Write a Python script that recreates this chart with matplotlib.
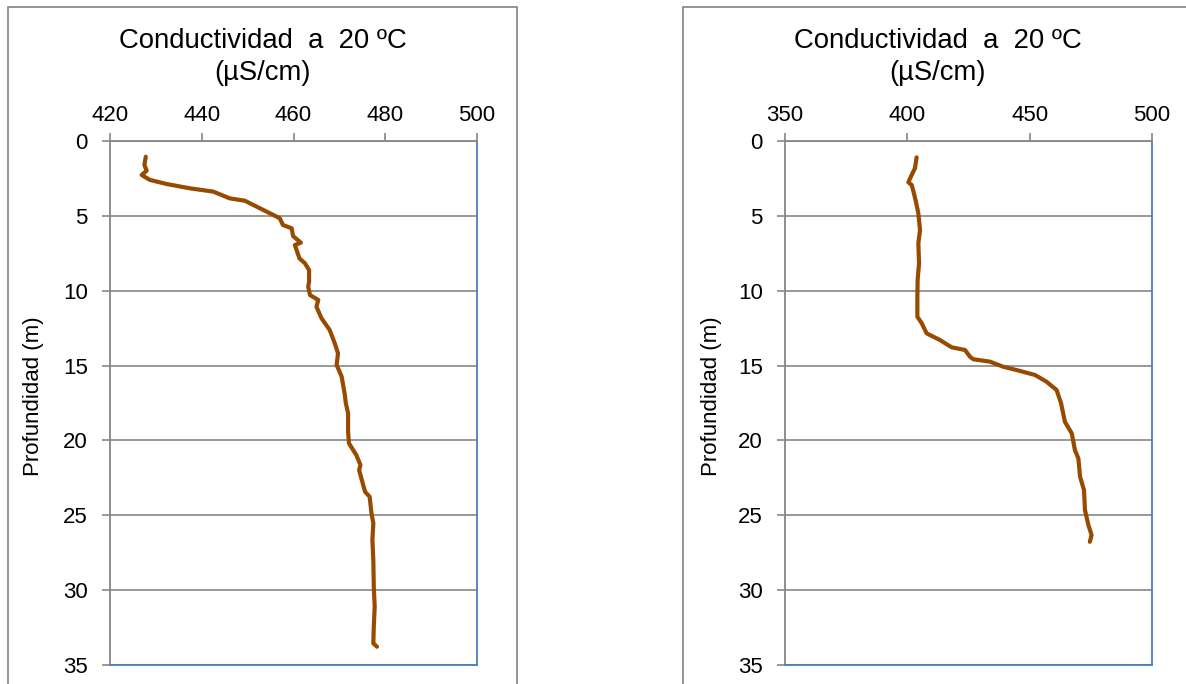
import matplotlib
matplotlib.use("Agg")
import matplotlib.pyplot as plt
from matplotlib.patches import Rectangle

plt.rcParams['font.family'] = ['Liberation Sans', 'DejaVu Sans']

# ---- data: left profile ----
depth_a = [1.05, 1.6, 1.98, 2.27, 2.6, 2.87, 3.16, 3.38, 3.83, 3.99, 4.39, 4.94,
           5.16, 5.61, 5.83, 6.35, 6.79, 6.95, 7.84, 8.17, 8.62, 9.40, 9.73, 10.29,
           10.62, 11.07, 11.84, 12.63, 13.52, 14.18, 14.96, 15.74, 16.97, 17.5,
           18.19, 19.42, 20.2, 20.98, 21.64, 21.98, 22.76, 23.43, 23.76, 24.87,
           25.53, 26.65, 27.99, 29.77, 31.1, 32.44, 33.55, 33.78]
cond_a = [427.8, 427.5, 428.0, 426.9, 428.7, 432.3, 437.4, 442.5, 446.1, 449.4, 452.0, 455.6,
          457.0, 457.7, 459.6, 459.9, 461.6, 460.3, 461.3, 462.5, 463.4, 463.4, 463.2, 463.6,
          465.4, 465.0, 466.1, 467.9, 469.0, 469.7, 469.4, 470.5, 471.2, 471.4,
          471.9, 471.9, 472.1, 473.7, 474.6, 474.3, 475.0, 475.6, 476.6, 477.0,
          477.4, 477.2, 477.4, 477.5, 477.7, 477.5, 477.4, 478.2]

# ---- data: right profile ----
depth_b = [1.09, 1.83, 2.12, 2.76, 2.94, 3.5, 4.05, 4.83, 5.95, 6.83, 8.17, 9.29,
           10.4, 11.74, 12.18, 12.85, 13.29, 13.78, 13.96, 14.41, 14.58, 14.74, 15.08,
           15.3, 15.63, 16.08, 16.63, 17.5, 18.75, 19.53, 20.64, 21.2, 22.43, 23.31,
           24.65, 25.65, 26.32, 26.77]
cond_b = [403.8, 403.1, 402.2, 400.4, 401.8, 402.7, 403.5, 404.5, 405.2, 404.5, 404.8, 404.2,
          404.1, 404.1, 405.9, 407.9, 413.3, 418.1, 423.6, 425.6, 427.0, 433.8, 439.2,
          444.7, 452.2, 456.9, 461.0, 462.8, 464.4, 467.2, 468.5, 469.9, 470.6, 472.2,
          472.6, 474.0, 475.3, 474.6]

xticks_a = [420, 440, 460, 480, 500]
xticks_b = [350, 400, 450, 500]
yticks = [0, 5, 10, 15, 20, 25, 30, 35]
title_l1 = "Conductividad  a  20 ºC"
title_l2 = "(µS/cm)"
ylabel = "Profundidad (m)"

W, H = 1186, 684
GRAY = '#868686'
BLUE = '#4A7EBB'
LINE = '#964B00'

fig = plt.figure(figsize=(W / 100, H / 100), dpi=100)

panels = [
    dict(frame_x=8, ax_x=110, xt=xticks_a, xl=(420, 500), d=depth_a, c=cond_a, ylab_x=34),
    dict(frame_x=683, ax_x=785, xt=xticks_b, xl=(350, 500), d=depth_b, c=cond_b, ylab_x=711),
]

for p in panels:
    fig.add_artist(Rectangle((p['frame_x'] / W, -0.05), 509 / W, (1 - 7 / H) + 0.05,
                             transform=fig.transFigure, fill=False,
                             edgecolor='#8C8C8C', lw=1.3))
    ax = fig.add_axes([p['ax_x'] / W, 1 - 665 / H, 367 / W, 524 / H])
    ax.plot(p['c'], p['d'], color=LINE, lw=3.0, solid_capstyle='round',
            solid_joinstyle='round')
    ax.set_xlim(*p['xl'])
    ax.set_ylim(35, 0)
    ax.set_xticks(p['xt'])
    ax.set_yticks(yticks)
    ax.xaxis.tick_top()
    ax.tick_params(axis='x', direction='out', length=6, width=1.2, color=GRAY,
                   labelsize=16, pad=5, labelcolor='black')
    ax.tick_params(axis='y', direction='out', length=6, width=1.2, color=GRAY,
                   labelsize=16, pad=10, labelcolor='black')
    ax.yaxis.grid(True, color=GRAY, lw=1.2)
    ax.set_axisbelow(True)
    ax.spines['left'].set_color(GRAY)
    ax.spines['top'].set_color(GRAY)
    ax.spines['right'].set_color(BLUE)
    ax.spines['bottom'].set_color(BLUE)
    for s in ax.spines.values():
        s.set_linewidth(1.3)
    cx = (p['frame_x'] + 254.5) / W
    fig.text(cx, 1 - 41 / H, title_l1, ha='center', va='center', fontsize=19.8)
    fig.text(cx, 1 - 73 / H, title_l2, ha='center', va='center', fontsize=19.8)
    fig.text(p['ylab_x'] / W, 1 - 396 / H, ylabel, rotation=90, ha='center',
             va='center', fontsize=16)

fig.savefig('out.png', dpi=100)
